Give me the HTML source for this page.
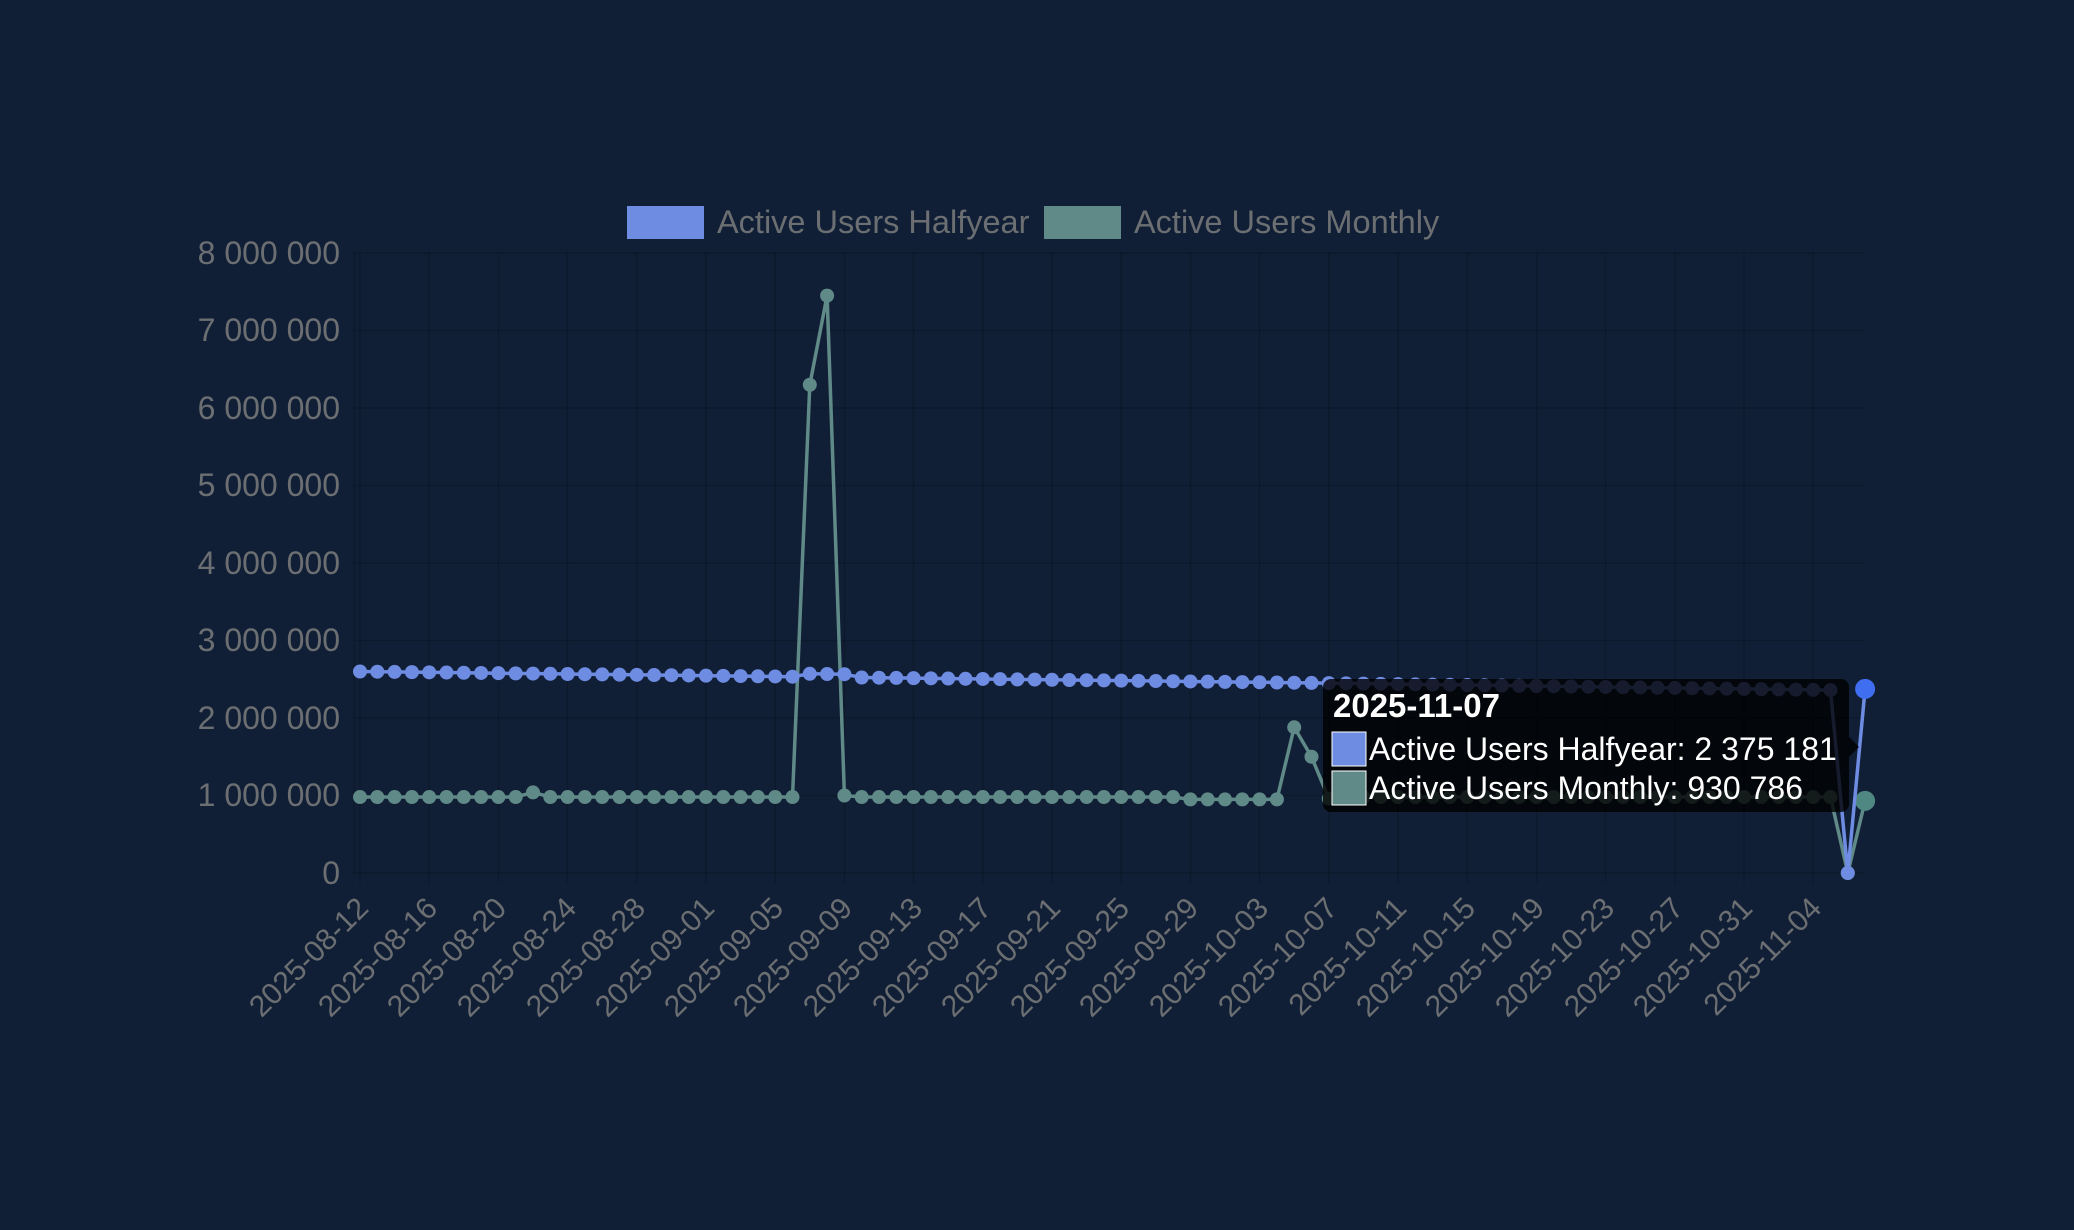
<!DOCTYPE html>
<html><head><meta charset="utf-8"><style>
html,body{margin:0;padding:0;background:#111f36;}
svg{display:block;}
text{font-family:"Liberation Sans",sans-serif;}
</style></head><body>
<svg id="s" width="2074" height="1230" viewBox="0 0 2074 1230" xmlns="http://www.w3.org/2000/svg">
<rect width="2074" height="1230" fill="#111f36"/>
<g id="grid" stroke="rgba(0,0,0,0.18)" stroke-width="1.5"></g>
<g fill="#6c6f72" font-size="32" text-anchor="end">
<text x="340" y="264">8 000 000</text>
<text x="340" y="341">7 000 000</text>
<text x="340" y="419">6 000 000</text>
<text x="340" y="496">5 000 000</text>
<text x="340" y="574">4 000 000</text>
<text x="340" y="651">3 000 000</text>
<text x="340" y="729">2 000 000</text>
<text x="340" y="806">1 000 000</text>
<text x="340" y="884">0</text>
</g>
<g fill="#6c6f72" font-size="30" text-anchor="end">
<text transform="translate(370,910) rotate(-45)">2025-08-12</text>
<text transform="translate(439,910) rotate(-45)">2025-08-16</text>
<text transform="translate(508,910) rotate(-45)">2025-08-20</text>
<text transform="translate(578,910) rotate(-45)">2025-08-24</text>
<text transform="translate(647,910) rotate(-45)">2025-08-28</text>
<text transform="translate(716,910) rotate(-45)">2025-09-01</text>
<text transform="translate(785,910) rotate(-45)">2025-09-05</text>
<text transform="translate(854,910) rotate(-45)">2025-09-09</text>
<text transform="translate(924,910) rotate(-45)">2025-09-13</text>
<text transform="translate(993,910) rotate(-45)">2025-09-17</text>
<text transform="translate(1062,910) rotate(-45)">2025-09-21</text>
<text transform="translate(1131,910) rotate(-45)">2025-09-25</text>
<text transform="translate(1200,910) rotate(-45)">2025-09-29</text>
<text transform="translate(1270,910) rotate(-45)">2025-10-03</text>
<text transform="translate(1339,910) rotate(-45)">2025-10-07</text>
<text transform="translate(1408,910) rotate(-45)">2025-10-11</text>
<text transform="translate(1477,910) rotate(-45)">2025-10-15</text>
<text transform="translate(1546,910) rotate(-45)">2025-10-19</text>
<text transform="translate(1616,910) rotate(-45)">2025-10-23</text>
<text transform="translate(1685,910) rotate(-45)">2025-10-27</text>
<text transform="translate(1754,910) rotate(-45)">2025-10-31</text>
<text transform="translate(1823,910) rotate(-45)">2025-11-04</text>
</g>
<rect x="627" y="206" width="77" height="33" fill="#6f8ce3"/>
<text x="717" y="233" font-size="32.5" fill="#6c6f72">Active Users Halfyear</text>
<rect x="1044" y="206" width="77" height="33" fill="#5f8a87"/>
<text x="1134" y="233" font-size="32.5" fill="#6c6f72">Active Users Monthly</text>
<g id="series"></g>
<g>
<rect x="1323" y="679" width="526" height="133" rx="8" fill="rgba(0,0,0,0.8)"/>
<path d="M1849 737 L1859 747 L1849 757 Z" fill="rgba(0,0,0,0.8)"/>
<text x="1333" y="717" font-size="33" font-weight="bold" fill="#fff">2025-11-07</text>
<rect x="1332" y="732" width="34" height="34" fill="#6f8ce3" stroke="#fff" stroke-width="1"/>
<text x="1369" y="760" font-size="32" fill="#fff">Active Users Halfyear: 2 375 181</text>
<rect x="1332" y="771" width="34" height="34" fill="#5f8a87" stroke="#fff" stroke-width="1"/>
<text x="1369" y="799" font-size="32" fill="#fff">Active Users Monthly: 930 786</text>
</g>
</svg>
<script>
(function(){
var NS="http://www.w3.org/2000/svg";
var x0=360,dx=17.3,y0=873,k=77.5/1e6;
function X(i){return x0+i*dx;} function Y(v){return y0-v*k;}
var g=document.getElementById('grid');
for(var v=0;v<=8;v++){var l=document.createElementNS(NS,'line');l.setAttribute('x1',354);l.setAttribute('x2',1865);l.setAttribute('y1',Y(v*1e6));l.setAttribute('y2',Y(v*1e6));g.appendChild(l);}
for(var i=0;i<88;i+=4){var l=document.createElementNS(NS,'line');l.setAttribute('x1',X(i));l.setAttribute('x2',X(i));l.setAttribute('y1',253);l.setAttribute('y2',883);g.appendChild(l);}
var l=document.createElementNS(NS,'line');l.setAttribute('x1',354);l.setAttribute('x2',354);l.setAttribute('y1',253);l.setAttribute('y2',873);g.appendChild(l);
var H=[],M=[];
for(var i=0;i<88;i++){
 var h; if(i<=56) h=2600000-i*(150000/56); else h=2450000-(i-56)*(90000/29);
 if(i>=26&&i<=28) h+=40000;
 H.push(h);
 var m=980000; if(i==10)m=1040000; if(i>=48&&i<=53)m=950000;
 M.push(m);
}
M[26]=6300000;M[27]=7450000;M[28]=1000000;M[54]=1880000;M[55]=1500000;M[56]=960000;
H[86]=0;M[86]=0;H[87]=2375181;M[87]=930786;
var s=document.getElementById('series');
function draw(arr,col,hcol){
 var d='';for(var i=0;i<arr.length;i++)d+=(i?'L':'M')+X(i).toFixed(1)+' '+Y(arr[i]).toFixed(1);
 var p=document.createElementNS(NS,'path');p.setAttribute('d',d);p.setAttribute('fill','none');p.setAttribute('stroke',col);p.setAttribute('stroke-width',3.5);p.setAttribute('stroke-linejoin','miter');s.appendChild(p);
 for(var i=0;i<arr.length;i++){var c=document.createElementNS(NS,'circle');c.setAttribute('cx',X(i));c.setAttribute('cy',Y(arr[i]));c.setAttribute('r',i==87?10:7);c.setAttribute('fill',i==87?hcol:col);s.appendChild(c);}
}
draw(M,'#5f8a87','#4f8782');
draw(H,'#6f8ce3','#3f6ff0');
})();
</script>
</body></html>
